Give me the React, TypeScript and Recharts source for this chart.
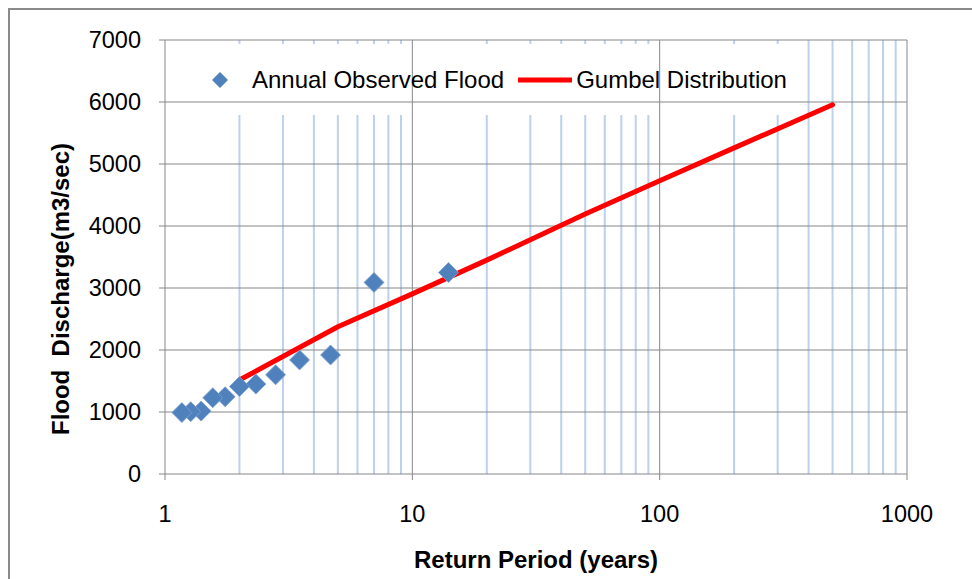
import React from 'react';
import { ComposedChart, XAxis, YAxis, Scatter, Line, ReferenceLine, Legend, Label } from 'recharts';

// Observed annual floods (return period in years, discharge m3/sec)
const observedT = [14, 7, 4.67, 3.5, 2.8, 2.33, 2, 1.75, 1.56, 1.4, 1.27, 1.17];
const observedQ = [3250, 3090, 1920, 1840, 1600, 1450, 1410, 1245, 1230, 1015, 1005, 990];

// Gumbel distribution curve
const gumbelT = [2, 5, 10, 20, 50, 100, 200, 500];
const gumbelQ = [1515, 2375, 2905, 3450, 4195, 4730, 5260, 5955];

const xTicks = [1, 10, 100, 1000];
const yTicks = [0, 1000, 2000, 3000, 4000, 5000, 6000, 7000];
const minorX = [2, 3, 4, 5, 6, 7, 8, 9, 20, 30, 40, 50, 60, 70, 80, 90, 200, 300, 400, 500, 600, 700, 800, 900];
const majorX = [10, 100, 1000];

const observedData = observedT.map((t, i) => ({ t, q: observedQ[i] }));
const gumbelData = gumbelT.map((t, i) => ({ t, q: gumbelQ[i] }));

const FONT = "'Liberation Sans', Arial, sans-serif";
const GRAY = '#878787';
const MINOR = '#BDD0EC';
const BLUE = '#4F81BD';
const RED = '#FF0000';

// legend box hides minor gridlines in this band (data units)
const LEGEND_LOW = 5790;
const LEGEND_HIGH = 6935;
const LEGEND_MAX_X = 300;

const Diamond = (props: any) => {
  const { cx, cy } = props;
  const r = 10;
  return (
    <polygon
      points={`${cx},${cy - r} ${cx + r},${cy} ${cx},${cy + r} ${cx - r},${cy}`}
      fill={BLUE}
      stroke="#7FA2D0"
      strokeWidth={0.8}
    />
  );
};

const renderLegend = () => (
  <div
    style={{
      display: 'flex',
      alignItems: 'center',
      fontFamily: FONT,
      fontSize: 24,
      color: '#000',
      whiteSpace: 'nowrap',
      lineHeight: '26px',
    }}
  >
    <svg width={16} height={16} style={{ display: 'block' }}>
      <polygon points="8,0 16,8 8,16 0,8" fill={BLUE} />
    </svg>
    <span style={{ marginLeft: 24 }}>Annual Observed Flood</span>
    <svg width={54} height={6} style={{ marginLeft: 14, display: 'block' }}>
      <line x1={0} y1={3} x2={54} y2={3} stroke={RED} strokeWidth={5} />
    </svg>
    <span style={{ marginLeft: 4 }}>Gumbel Distribution</span>
  </div>
);

const YLabel = (props: any) => {
  const vb = props.viewBox || {};
  const x = vb.x + vb.width / 2 - 46;
  const y = vb.y + vb.height / 2 + 32;
  return (
    <text
      transform={`translate(${x},${y}) rotate(-90)`}
      textAnchor="middle"
      fontFamily={FONT}
      fontSize={24}
      fontWeight="bold"
      fill="#000"
      style={{ whiteSpace: 'pre' }}
    >
      {'Flood  Discharge(m3/sec)'}
    </text>
  );
};

const XLabel = (props: any) => {
  const vb = props.viewBox || {};
  return (
    <text
      x={vb.x + vb.width / 2}
      y={vb.y + 94}
      textAnchor="middle"
      fontFamily={FONT}
      fontSize={24}
      fontWeight="bold"
      fill="#000"
    >
      Return Period (years)
    </text>
  );
};

export default function App() {
  return (
    <div
      style={{
        position: 'absolute',
        left: 0,
        top: 0,
        width: 972,
        height: 579,
        overflow: 'hidden',
        background: '#fff',
      }}
    >
      <div
        style={{
          position: 'absolute',
          left: 8,
          top: 8,
          width: 1000,
          height: 1000,
          border: '2px solid #8A8A8A',
        }}
      />
      <ComposedChart
        width={972}
        height={579}
        margin={{ top: 40, right: 65, bottom: 0, left: 65 }}
        style={{ position: 'absolute', left: 0, top: 0 }}
      >
        <XAxis
          dataKey="t"
          type="number"
          scale="log"
          domain={[1, 1000]}
          ticks={xTicks}
          allowDataOverflow
          height={105}
          tickSize={6}
          tickMargin={25}
          tick={{ fontSize: 23.5, fill: '#000', fontFamily: FONT }}
          tickLine={{ stroke: GRAY }}
          axisLine={{ stroke: GRAY }}
        >
          <Label content={XLabel} />
        </XAxis>
        <YAxis
          dataKey="q"
          type="number"
          domain={[0, 7000]}
          ticks={yTicks}
          width={100}
          tickSize={6}
          tickMargin={18}
          tick={{ fontSize: 23.5, fill: '#000', fontFamily: FONT }}
          tickLine={{ stroke: GRAY }}
          axisLine={{ stroke: GRAY }}
        >
          <Label content={YLabel} />
        </YAxis>

        {minorX.map((m) =>
          m <= LEGEND_MAX_X ? (
            <React.Fragment key={`mf${m}`}>
              <ReferenceLine
                segment={[{ x: m, y: 0 }, { x: m, y: LEGEND_LOW }]}
                stroke={MINOR}
                strokeWidth={2}
              />
              <ReferenceLine
                segment={[{ x: m, y: LEGEND_HIGH }, { x: m, y: 7000 }]}
                stroke={MINOR}
                strokeWidth={2}
              />
            </React.Fragment>
          ) : (
            <ReferenceLine key={`m${m}`} x={m} stroke={MINOR} strokeWidth={2} />
          )
        )}
        {yTicks.slice(1).map((v) => (
          <ReferenceLine key={`h${v}`} y={v} stroke={GRAY} strokeWidth={1} />
        ))}
        {majorX.map((v) => (
          <ReferenceLine key={`v${v}`} x={v} stroke={GRAY} strokeWidth={1} />
        ))}

        <Legend
          verticalAlign="top"
          align="left"
          content={renderLegend}
          wrapperStyle={{ position: 'absolute', top: 67, left: 212, width: 'auto', height: 0, overflow: 'visible' }}
        />

        <Line
          data={gumbelData}
          dataKey="q"
          name="Gumbel Distribution"
          stroke={RED}
          strokeWidth={5}
          strokeLinecap="round"
          strokeLinejoin="round"
          dot={false}
          activeDot={false}
          isAnimationActive={false}
        />
        <Scatter
          data={observedData}
          dataKey="q"
          name="Annual Observed Flood"
          fill={BLUE}
          shape={Diamond}
          isAnimationActive={false}
        />
      </ComposedChart>
    </div>
  );
}
